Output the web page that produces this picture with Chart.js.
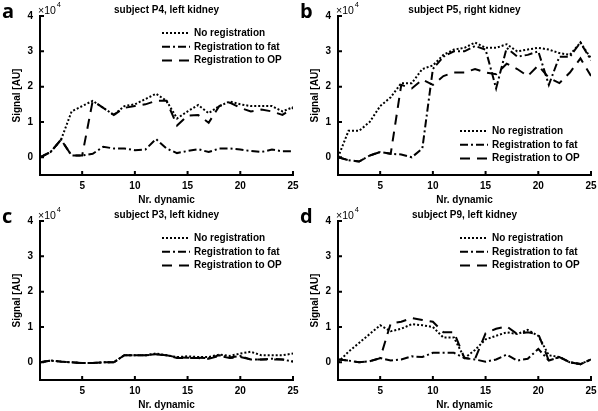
<!DOCTYPE html>
<html>
<head>
<meta charset="utf-8">
<script src="https://cdn.jsdelivr.net/npm/chart.js@4"></script>
<style>
  html, body { margin: 0; padding: 0; background: #fff; }
  #wrap { position: relative; width: 598px; height: 411px; }
  .panel { position: absolute; width: 299px; height: 205px; }
</style>
</head>
<body>
<div id="wrap">
  <div class="panel" style="left:0;top:0"><canvas id="chartA"></canvas></div>
  <div class="panel" style="left:298px;top:0"><canvas id="chartB"></canvas></div>
  <div class="panel" style="left:0;top:205px"><canvas id="chartC"></canvas></div>
  <div class="panel" style="left:298px;top:205px"><canvas id="chartD"></canvas></div>
</div>
<script>
// data (signal in units of 10^4 AU)
const dynamics = [1, 2, 3, 4, 5, 6, 7, 8, 9, 10, 11, 12, 13, 14, 15, 16, 17, 18, 19, 20, 21, 22, 23, 24, 25];
const xTicks = [5, 10, 15, 20, 25];
const yTicks = [0, 1, 2, 3, 4];
const seriesLabels = ['No registration', 'Registration to fat', 'Registration to OP'];

// a: subject P4, left kidney
const p4None = [0, 0.15, 0.5, 1.3, 1.45, 1.6, 1.4, 1.2, 1.45, 1.5, 1.65, 1.8, 1.6, 1.1, 1.3, 1.48, 1.25, 1.45, 1.58, 1.5, 1.45, 1.45, 1.45, 1.3, 1.42];
const p4Fat = [0, 0.15, 0.5, 0.05, 0.05, 0.1, 0.3, 0.25, 0.25, 0.2, 0.22, 0.52, 0.25, 0.12, 0.18, 0.23, 0.15, 0.25, 0.25, 0.22, 0.18, 0.15, 0.22, 0.17, 0.17];
const p4OP = [0, 0.15, 0.5, 0.05, 0.05, 1.6, 1.4, 1.2, 1.4, 1.45, 1.5, 1.6, 1.6, 0.9, 1.18, 1.2, 0.98, 1.45, 1.55, 1.4, 1.3, 1.35, 1.3, 1.2, 1.4];

// b: subject P5, right kidney
const p5None = [0, 0.75, 0.75, 1.0, 1.45, 1.7, 2.1, 2.1, 2.5, 2.6, 2.9, 3.05, 3.1, 3.25, 3.1, 3.1, 3.2, 3.0, 3.05, 3.1, 3.05, 2.95, 2.9, 3.25, 2.8];
const p5Fat = [0, -0.08, -0.12, 0.05, 0.15, 0.1, 0.08, 0.0, 0.25, 2.5, 2.85, 3.0, 3.0, 3.15, 3.05, 1.95, 3.1, 2.85, 2.9, 3.0, 2.05, 2.85, 2.85, 3.25, 2.75];
const p5OP = [0, -0.08, -0.12, 0.05, 0.15, 0.1, 2.05, 1.95, 2.2, 2.05, 2.3, 2.4, 2.4, 2.5, 2.4, 2.35, 2.65, 2.5, 2.3, 2.6, 2.25, 2.1, 2.4, 2.8, 2.3];

// c: subject P3, left kidney
const p3None = [0, 0.05, 0.02, 0, -0.02, -0.02, 0, 0, 0.2, 0.2, 0.2, 0.25, 0.2, 0.15, 0.17, 0.15, 0.15, 0.22, 0.18, 0.25, 0.3, 0.2, 0.2, 0.2, 0.25];
const p3Fat = [0, 0.05, 0.02, 0, -0.02, -0.02, 0, 0, 0.2, 0.2, 0.2, 0.23, 0.2, 0.14, 0.13, 0.13, 0.12, 0.2, 0.14, 0.18, 0.08, 0.08, 0.1, 0.08, 0.02];
const p3OP = [0, 0.05, 0.02, 0, -0.02, -0.02, 0, 0, 0.2, 0.2, 0.2, 0.22, 0.2, 0.12, 0.12, 0.12, 0.1, 0.18, 0.12, 0.15, 0.08, 0.08, 0.08, 0.08, 0.02];

// d: subject P9, left kidney
const p9None = [0, 0.3, 0.55, 0.8, 1.05, 0.88, 0.95, 1.08, 1.05, 1.0, 0.7, 0.7, 0.12, 0.35, 0.65, 0.75, 0.85, 0.8, 0.92, 0.75, 0.2, 0.15, 0.0, -0.05, 0.08];
const p9Fat = [0.08, 0.05, 0.0, 0.03, 0.12, 0.05, 0.08, 0.17, 0.15, 0.27, 0.27, 0.27, 0.12, 0.08, 0.02, 0.08, 0.22, 0.05, 0.1, 0.38, 0.05, 0.15, 0.0, -0.05, 0.08];
const p9OP = [0.08, 0.05, 0.0, 0.03, 0.12, 1.1, 1.15, 1.25, 1.2, 1.15, 0.85, 0.85, 0.12, 0.1, 0.82, 0.95, 1.02, 0.8, 0.85, 0.8, 0.05, 0.15, 0.0, -0.05, 0.08];

const FONT = '"Liberation Sans", Arial, sans-serif';
const dashes = [[2, 2], [8, 3, 2, 3], [10, 7]];

// extra drawing: inward ticks, titles, x10^4 note, panel letter, legend
const decor = {
  id: 'decor',
  afterDraw(chart, args, opts) {
    const ctx = chart.ctx, a = chart.chartArea;
    const xs = chart.scales.x, ys = chart.scales.y;
    ctx.save();
    ctx.fillStyle = '#000';
    ctx.strokeStyle = '#000';
    ctx.lineWidth = 2;
    ctx.setLineDash([]);
    ctx.beginPath();
    ys.ticks.forEach(t => {
      const py = ys.getPixelForValue(t.value);
      ctx.moveTo(a.left, py); ctx.lineTo(a.left + 4, py);
    });
    xs.ticks.forEach(t => {
      const px = xs.getPixelForValue(t.value);
      ctx.moveTo(px, a.bottom); ctx.lineTo(px, a.bottom - 4);
    });
    ctx.stroke();

    const cx = (a.left + a.right) / 2;
    ctx.textBaseline = 'middle';
    ctx.textAlign = 'center';
    ctx.font = 'bold 10px ' + FONT;
    ctx.fillText(opts.title, cx, 10);
    ctx.fillText('Nr. dynamic', cx, 200);

    ctx.save();
    ctx.translate(17, (a.top + a.bottom) / 2);
    ctx.rotate(-Math.PI / 2);
    ctx.fillText('Signal [AU]', 0, 0);
    ctx.restore();

    ctx.textAlign = 'left';
    ctx.font = '10.5px ' + FONT;
    ctx.fillText('\u00d710', 38, 11);
    const w = ctx.measureText('\u00d710').width;
    ctx.font = '7.5px ' + FONT;
    ctx.fillText('4', 38 + w + 1, 5);

    ctx.font = 'bold 20px "Open Sans", sans-serif';
    ctx.fillText(opts.letter, 2, 12);

    ctx.font = 'bold 10px ' + FONT;
    chart.data.datasets.forEach((ds, i) => {
      const yy = opts.legendY + i * 13.8;
      ctx.setLineDash(ds.borderDash);
      ctx.beginPath();
      ctx.moveTo(162, yy); ctx.lineTo(190, yy);
      ctx.stroke();
      ctx.setLineDash([]);
      ctx.fillText(ds.label, 194, yy);
    });
    ctx.restore();
  }
};

function makePanel(id, letter, title, series, legendY) {
  new Chart(document.getElementById(id), {
    type: 'line',
    data: {
      labels: dynamics,
      datasets: series.map((vals, i) => ({
        label: seriesLabels[i],
        data: vals,
        borderColor: '#000',
        borderWidth: 2,
        borderDash: dashes[i],
        pointRadius: 0,
        tension: 0,
        fill: false
      }))
    },
    options: {
      animation: false,
      responsive: true,
      maintainAspectRatio: false,
      layout: { padding: { top: 16, right: 6, left: 0, bottom: 0 } },
      plugins: {
        legend: { display: false },
        tooltip: { enabled: false },
        decor: { letter: letter, title: title, legendY: legendY }
      },
      scales: {
        x: {
          type: 'linear',
          min: 1,
          max: 25,
          afterBuildTicks: s => { s.ticks = xTicks.map(v => ({ value: v })); },
          afterFit: s => { s.height = 30; s.paddingLeft = 0; s.paddingRight = 0; },
          grid: { display: true, drawOnChartArea: false, drawTicks: false },
          border: { display: true, color: '#000', width: 2 },
          ticks: { color: '#000', padding: 5, maxRotation: 0, font: { family: FONT, weight: 'bold', size: 10 } }
        },
        y: {
          min: -0.5,
          max: 4,
          afterBuildTicks: s => { s.ticks = yTicks.map(v => ({ value: v })); },
          afterFit: s => { s.width = 40; s.paddingTop = 0; s.paddingBottom = 0; },
          grid: { display: true, drawOnChartArea: false, drawTicks: false },
          border: { display: true, color: '#000', width: 2 },
          ticks: { color: '#000', padding: 7, font: { family: FONT, weight: 'bold', size: 10 } }
        }
      }
    },
    plugins: [decor]
  });
}

makePanel('chartA', 'a', 'subject P4, left kidney', [p4None, p4Fat, p4OP], 33);
makePanel('chartB', 'b', 'subject P5, right kidney', [p5None, p5Fat, p5OP], 131);
makePanel('chartC', 'c', 'subject P3, left kidney', [p3None, p3Fat, p3OP], 33);
makePanel('chartD', 'd', 'subject P9, left kidney', [p9None, p9Fat, p9OP], 33);
</script>
</body>
</html>
